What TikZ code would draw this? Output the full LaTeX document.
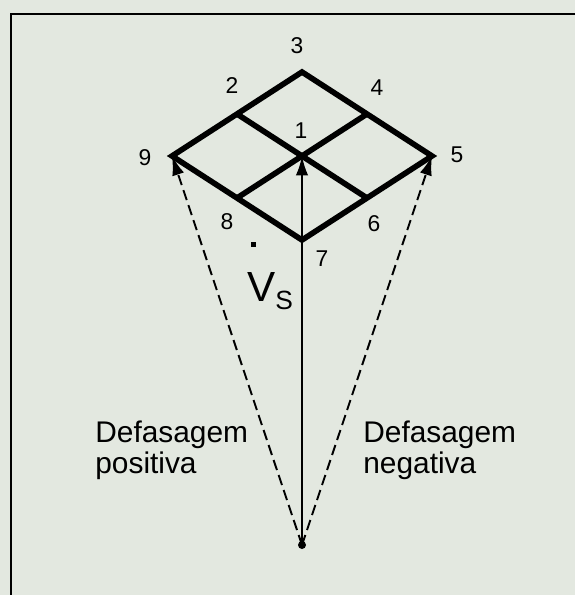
\documentclass[tikz,border=0pt]{standalone}
\usepackage{fontspec}
\setmainfont{Liberation Sans}
\usepackage{xcolor}
\usetikzlibrary{arrows.meta, positioning}
\definecolor{paper}{RGB}{227,232,224}

\begin{document}
\begin{tikzpicture}[x=0.02cm, y=-0.02cm,
    grid/.style={line width=3.2pt, line join=miter},
    vec/.style={line width=1.1pt, -{Latex[length=11pt, width=7pt]}},
    num/.style={font=\fontsize{13}{15}\selectfont, inner sep=0pt},
    txt/.style={font=\fontsize{17}{17.5}\selectfont, align=left, inner sep=0pt}]
  % paper and frame
  \fill[paper] (0,0) rectangle (575,595);
  \useasboundingbox (0,0) rectangle (575,595);
  \draw[line width=0.9pt] (575,14) -- (11,14) -- (11,595);

  % vertices of the grid
  \coordinate (c1) at (302,156);
  \coordinate (c2) at (237,114);
  \coordinate (c3) at (302,72);
  \coordinate (c4) at (367,114);
  \coordinate (c5) at (432,156);
  \coordinate (c6) at (367,198);
  \coordinate (c7) at (302,240);
  \coordinate (c8) at (237,198);
  \coordinate (c9) at (172,156);

  \draw[grid] (c3) -- (c5) -- (c7) -- (c9) -- cycle;
  \draw[grid] (c2) -- (c6);
  \draw[grid] (c4) -- (c8);

  % vectors
  \node[circle, fill, inner sep=0pt, minimum size=0.16cm] (orig) at (302,545) {};
  \draw[vec] (orig.center) -- (c1);
  \draw[vec, dash pattern=on 6pt off 3pt] (orig.center) -- (c9);
  \draw[vec, dash pattern=on 6pt off 3pt] (orig.center) -- (c5);

  % labels
  \node[num] (l1) at (301,131) {1};
  \node[num] (l2) at (232,86) {2};
  \node[num] (l3) at (297,46) {3};
  \node[num] (l4) at (377,88) {4};
  \node[num] (l5) at (457,155) {5};
  \node[num] (l6) at (374,224) {6};
  \node[num] (l7) at (322,259) {7};
  \node[num] (l8) at (227,222) {8};
  \node[num] (l9) at (145,158) {9};

  \node[fill, inner sep=0pt, minimum size=0.1cm] (mark) at (253,244) {};
  \node[anchor=base west, inner sep=0pt] (vs) at (247,301)
    {\fontsize{24}{26}\selectfont V\fontsize{15}{17}\selectfont\raisebox{-5pt}{S}};

  \node[txt, anchor=north west] (pos) at (95,421) {Defasagem\\positiva};
  \node[txt, anchor=north west] (neg) at (363,421) {Defasagem\\negativa};
\end{tikzpicture}
\end{document}
